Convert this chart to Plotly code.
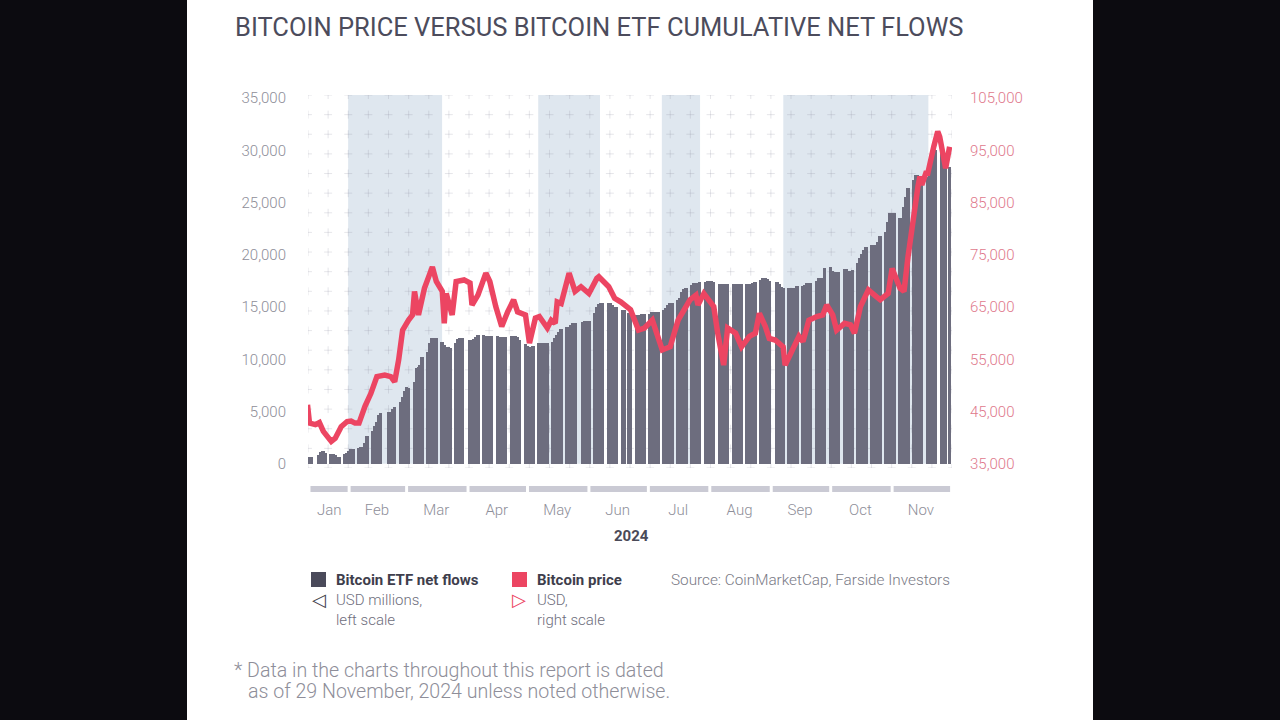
import plotly.graph_objects as go
import pandas as pd
import numpy as np

# ---------------- data ----------------
# Cumulative Bitcoin ETF net flows (USD millions), one row per week, Mon..Fri (None = no trading)
flow_first_monday = "2024-01-08"
weekly_flows = [
    [None, None, None, 650, 700],          # Jan 8
    [None, 860, 1100, 1180, 1050],         # Jan 15
    [950, 900, 850, 700, 670],             # Jan 22
    [900, 1050, 1250, 1400, 1450],         # Jan 29
    [1550, 1600, 1650, 2000, 2700],        # Feb 5
    [3100, 3600, 4050, 4700, 4900],        # Feb 12
    [None, 5000, 5000, 5200, 5480],        # Feb 19
    [5900, 6440, 7000, 7400, 7270],        # Feb 26
    [7870, 9180, 9300, 9470, 10200],       # Mar 4
    [10740, 11540, 12020, 12050, 12000],   # Mar 11
    [11700, 11380, 11200, 11160, 11100],   # Mar 18
    [11540, 11950, 12020, 12050, None],    # Mar 25
    [11860, 11800, 11900, 12100, 12340],   # Apr 1
    [12300, 12250, 12250, 12200, 12250],   # Apr 8
    [12200, 12150, 12150, 12100, 12150],   # Apr 15
    [12200, 12250, 12250, 12150, 11860],   # Apr 22
    [11500, 11300, 11220, 11200, 11250],   # Apr 29
    [11550, 11600, 11600, 11600, 11600],   # May 6
    [11700, 12000, 12300, 12660, 12900],   # May 13
    [13130, 13130, 13300, 13450, 13450],   # May 20
    [None, 13600, 13650, 13650, 13700],    # May 27
    [14400, 15040, 15300, 15430, 15430],   # Jun 3
    [15400, 15370, 15200, 15040, 15040],   # Jun 10
    [14730, 14730, None, 14400, 14250],    # Jun 17
    [14250, 14250, 14280, 14300, 14300],   # Jun 24
    [14350, 14500, 14570, None, 14570],    # Jul 1
    [14700, 14890, 15200, 15370, 15370],   # Jul 8
    [15680, 15900, 16480, 16700, 16830],   # Jul 15
    [17100, 17340, 17340, 17340, 17400],   # Jul 22
    [17450, 17530, 17530, 17530, 17400],   # Jul 29
    [17200, 17180, 17180, 17200, 17180],   # Aug 5
    [17180, 17200, 17180, 17180, 17200],   # Aug 12
    [17250, 17250, 17250, 17300, 17400],   # Aug 19
    [17600, 17760, 17760, 17650, 17530],   # Aug 26
    [None, 17440, 17200, 16900, 16800],    # Sep 2
    [16800, 16800, 16800, 16850, 17000],   # Sep 9
    [17050, 17100, 17280, 17280, 17300],   # Sep 16
    [17500, 17760, 17760, 17800, 18710],   # Sep 23
    [18800, 18500, 18390, 18390, 18400],   # Sep 30
    [18620, 18620, 18500, 18500, 18550],   # Oct 7
    [19190, 19670, 20100, 20460, 20780],   # Oct 14
    [20900, 20940, 20940, 21260, 21800],   # Oct 21
    [22220, 23100, 24030, 24030, 24000],   # Oct 28
    [23500, 23500, 24600, 25560, 26360],   # Nov 4
    [27160, 27640, 27640, 27400, 27000],   # Nov 11
    [27480, 27640, 28500, 29500, 30000],   # Nov 18
    [29800, 28800, 28500, None, 28400],    # Nov 25
]

# Bitcoin price (USD)
price_dates = [
    "2024-01-11", "2024-01-12", "2024-01-15", "2024-01-17", "2024-01-19", "2024-01-23",
    "2024-01-25", "2024-01-28", "2024-01-31", "2024-02-02", "2024-02-04", "2024-02-06",
    "2024-02-09", "2024-02-12", "2024-02-15", "2024-02-19", "2024-02-22", "2024-02-24",
    "2024-02-26", "2024-02-28", "2024-03-02", "2024-03-04", "2024-03-05", "2024-03-07",
    "2024-03-10", "2024-03-13", "2024-03-14", "2024-03-16", "2024-03-19", "2024-03-20",
    "2024-03-21", "2024-03-24", "2024-03-26", "2024-03-30", "2024-04-02", "2024-04-03",
    "2024-04-06", "2024-04-10", "2024-04-12", "2024-04-15", "2024-04-18", "2024-04-21",
    "2024-04-24", "2024-04-26", "2024-04-30", "2024-05-02", "2024-05-05", "2024-05-07",
    "2024-05-11", "2024-05-13", "2024-05-15", "2024-05-16", "2024-05-18", "2024-05-22",
    "2024-05-25", "2024-05-28", "2024-06-01", "2024-06-05", "2024-06-06", "2024-06-11",
    "2024-06-14", "2024-06-17", "2024-06-22", "2024-06-26", "2024-06-29", "2024-07-03",
    "2024-07-08", "2024-07-12", "2024-07-16", "2024-07-18", "2024-07-22", "2024-07-25",
    "2024-07-26", "2024-07-29", "2024-07-31", "2024-08-03", "2024-08-05", "2024-08-08",
    "2024-08-10", "2024-08-14", "2024-08-17", "2024-08-21", "2024-08-24", "2024-08-26",
    "2024-08-29", "2024-08-31", "2024-09-03", "2024-09-07", "2024-09-08", "2024-09-12",
    "2024-09-15", "2024-09-17", "2024-09-20", "2024-09-24", "2024-09-27", "2024-09-29",
    "2024-10-02", "2024-10-04", "2024-10-08", "2024-10-11", "2024-10-13", "2024-10-16",
    "2024-10-20", "2024-10-24", "2024-10-26", "2024-10-30", "2024-11-01", "2024-11-05",
    "2024-11-07", "2024-11-09", "2024-11-10", "2024-11-12", "2024-11-14", "2024-11-15",
    "2024-11-16", "2024-11-18", "2024-11-19", "2024-11-22", "2024-11-24", "2024-11-25",
    "2024-11-27", "2024-11-28", "2024-11-30",
]
price_values = [
    46300, 42800, 42500, 42900, 41200, 39300,
    39900, 42100, 43100, 43200, 42800, 42800,
    46000, 48500, 51700, 52000, 51700, 50700,
    54900, 60600, 62500, 63500, 68000, 63500,
    68600, 71800, 72700, 69900, 68000, 61900,
    67600, 63500, 69900, 70200, 69600, 65400,
    67300, 71500, 69900, 65100, 61300, 64100,
    66400, 64100, 63500, 58100, 62900, 63200,
    61000, 62500, 61900, 66000, 65700, 71500,
    68000, 68900, 67600, 70500, 70800, 68900,
    66700, 66000, 64500, 60600, 61000, 62500,
    56800, 57400, 62500, 63800, 66400, 67300,
    65400, 67600, 66700, 65100, 60000, 53900,
    61000, 60000, 57400, 59400, 60000, 63800,
    61300, 59000, 58700, 57400, 53900, 56800,
    59400, 58400, 62500, 63200, 63500, 65400,
    63500, 60600, 61900, 61600, 60000, 65100,
    68300, 67000, 66400, 67600, 72400, 68600,
    68000, 74600, 77500, 83600, 88000, 90000,
    88400, 90600, 90600, 95700, 98600, 97600,
    93800, 91600, 95700,
]

# shaded periods
shade_starts = ["2024-01-31 12:00", "2024-05-06 10:00", "2024-07-07 19:00", "2024-09-07 02:00"]
shade_ends = ["2024-03-18 22:00", "2024-06-06 14:00", "2024-07-27 02:00", "2024-11-19 07:00"]

# month bands under the chart
month_names = ["Jan", "Feb", "Mar", "Apr", "May", "Jun", "Jul", "Aug", "Sep", "Oct", "Nov"]
month_band_start = ["2024-01-11 18:00", "2024-02-01", "2024-03-01", "2024-04-01", "2024-05-01",
                    "2024-06-01", "2024-07-01", "2024-08-01", "2024-09-01", "2024-10-01", "2024-11-01"]
month_band_end = ["2024-02-01", "2024-03-01", "2024-04-01", "2024-05-01", "2024-06-01",
                  "2024-07-01", "2024-08-01", "2024-09-01", "2024-10-01", "2024-11-01", "2024-12-01"]
month_label_pos = ["2024-01-22 00:00", "2024-02-15 00:00", "2024-03-16 00:00", "2024-04-15 12:00",
                   "2024-05-16 00:00", "2024-06-15 12:00", "2024-07-16 00:00", "2024-08-16 00:00",
                   "2024-09-15 12:00", "2024-10-16 00:00", "2024-11-15 12:00"]

left_ticks = [0, 5000, 10000, 15000, 20000, 25000, 30000, 35000]
right_ticks = [35000, 45000, 55000, 65000, 75000, 85000, 95000, 105000]

# ---------------- build ----------------
flow_dates, flow_values = [], []
base = pd.Timestamp(flow_first_monday)
for w, week in enumerate(weekly_flows):
    for d, v in enumerate(week):
        if v is not None:
            flow_dates.append(base + pd.Timedelta(days=7 * w + d))
            flow_values.append(v)

L, R, T, B = 308, 952, 95, 495
W, H = R - L, B - T


def px(x):
    return (x - L) / W


def py(y):
    return (B - y) / H


x_start = pd.Timestamp("2024-01-11 06:00")
x_end = pd.Timestamp("2024-12-01 05:00")
y_range = [-400, 35300]
y2_range = [35000 + 2 * y_range[0], 35000 + 2 * y_range[1]]

FONT = "Roboto"
GRAY = "#8e8e99"
DARK = "#3e3e4c"
RED = "#ec4562"
BAR = "#6d6d7e"

fig = go.Figure()

fig.add_trace(go.Bar(
    x=flow_dates, y=flow_values, marker=dict(color=BAR, line=dict(width=0)),
    width=1.8 * 86400000, offset=0, showlegend=False, name="Bitcoin ETF net flows",
))

fig.add_trace(go.Scatter(
    x=[pd.Timestamp(d) for d in price_dates], y=price_values, yaxis="y2", mode="lines",
    line=dict(color=RED, width=5.5), showlegend=False, name="Bitcoin price",
))

shapes = []
# white panel
shapes.append(dict(type="rect", xref="paper", yref="paper", x0=px(187), x1=px(1093),
                   y0=py(720), y1=py(0), fillcolor="white", line=dict(width=0), layer="below"))
for s, e in zip(shade_starts, shade_ends):
    shapes.append(dict(type="rect", xref="x", yref="y", x0=s, x1=e, y0=0, y1=y_range[1],
                       fillcolor="#dfe7ef", line=dict(width=0), layer="below"))

# decorative plus-sign grid behind the bars (one path in axis units; dates as epoch ms)
grid_cols = pd.date_range(x_start, x_end, periods=33)
grid_rows = np.linspace(y_range[0], y_range[1], 20)
arm_x = 2.0 * 86400000          # ~4 px
arm_y = 4 * (y_range[1] - y_range[0]) / (468 - T)
parts = []
for r in grid_rows:
    for c in grid_cols:
        cm = c.value // 10**6
        parts.append(f"M{cm - arm_x:.0f},{r:.1f}H{cm + arm_x:.0f}M{cm:.0f},{r - arm_y:.1f}V{r + arm_y:.1f}")
shapes.append(dict(type="path", xref="x", yref="y", path="".join(parts),
                   line=dict(color="rgba(140,140,160,0.22)", width=1), layer="below"))

gap = pd.Timedelta(hours=18)
for s, e in zip(month_band_start, month_band_end):
    shapes.append(dict(type="rect", xref="x", yref="y3", x0=pd.Timestamp(s) + gap,
                       x1=pd.Timestamp(e) - gap, y0=0.25, y1=0.75,
                       fillcolor="#cacad4", line=dict(width=0), layer="below"))
# legend squares
shapes.append(dict(type="rect", xref="paper", yref="paper", x0=px(311), x1=px(326),
                   y0=py(587), y1=py(572), fillcolor="#4a4a5a", line=dict(width=0)))
shapes.append(dict(type="rect", xref="paper", yref="paper", x0=px(512), x1=px(527),
                   y0=py(587), y1=py(572), fillcolor=RED, line=dict(width=0)))

ann = []


def add_text(text, x, y, size, color, weight=400, xanchor="left"):
    ann.append(dict(text=text, x=px(x), y=py(y), xref="paper", yref="paper",
                    xanchor=xanchor, yanchor="middle", showarrow=False,
                    font=dict(family=FONT, size=size, color=color, weight=weight)))


add_text("BITCOIN PRICE VERSUS BITCOIN ETF CUMULATIVE NET FLOWS", 233, 27, 25.5, "#4c4c5c")
add_text("2024", 631, 536, 15, "#4a4a58", 700, "center")
add_text("Bitcoin ETF net flows", 334, 580, 15, DARK, 700)
add_text("USD millions,", 334, 600, 15, "#6e6e7c", 300)
add_text("left scale", 334, 620, 15, "#6e6e7c", 300)
add_text("Bitcoin price", 535, 580, 15, DARK, 700)
add_text("USD,", 535, 600, 15, "#6e6e7c", 300)
add_text("right scale", 535, 620, 15, "#6e6e7c", 300)
add_text("Source: CoinMarketCap, Farside Investors", 669, 580, 15.3, "#7a7a86", 300)
add_text("* Data in the charts throughout this report is dated", 232, 670, 19.6, GRAY, 300)
add_text("as of 29 November, 2024 unless noted otherwise.", 246, 691, 19.6, GRAY, 300)
ann.append(dict(text="◁", x=px(318.5), y=py(599), xref="paper", yref="paper", showarrow=False,
                xanchor="center", yanchor="middle",
                font=dict(family="DejaVu Sans", size=18, color=DARK, weight=700)))
ann.append(dict(text="▷", x=px(518.5), y=py(599), xref="paper", yref="paper", showarrow=False,
                xanchor="center", yanchor="middle",
                font=dict(family="DejaVu Sans", size=18, color=RED, weight=700)))

fig.update_layout(
    width=1280, height=720,
    margin=dict(l=L, r=1280 - R, t=T, b=720 - B, pad=0),
    paper_bgcolor="#0c0b10", plot_bgcolor="rgba(0,0,0,0)",
    font=dict(family=FONT),
    bargap=0,
    shapes=shapes, annotations=ann,
    xaxis=dict(range=[x_start, x_end], type="date", anchor="y3", showgrid=False, zeroline=False,
               showline=False, tickmode="array", tickvals=[pd.Timestamp(d) for d in month_label_pos],
               ticktext=month_names, ticks="outside", ticklen=1, tickcolor="rgba(0,0,0,0)",
               tickfont=dict(family=FONT, size=15, color=GRAY, weight=300)),
    yaxis=dict(domain=[py(468), 1], range=y_range, showgrid=False, zeroline=False, showline=False,
               tickmode="array", tickvals=left_ticks, tickformat=",", ticks="outside", ticklen=18,
               tickcolor="rgba(0,0,0,0)",
               tickfont=dict(family=FONT, size=15, color=GRAY, weight=300)),
    yaxis2=dict(overlaying="y", side="right", range=y2_range, showgrid=False, zeroline=False,
                showline=False, tickmode="array", tickvals=right_ticks, tickformat=",",
                ticks="outside", ticklen=14, tickcolor="rgba(0,0,0,0)",
                tickfont=dict(family=FONT, size=15, color="#e0798c", weight=300)),
    yaxis3=dict(domain=[0, py(483)], range=[0, 1], visible=False, fixedrange=True),
)

fig.write_html(
    "out.html",
    config={"displayModeBar": False},
    post_script="document.body.style.margin='0px';document.body.style.background='#0c0b10';",
)
